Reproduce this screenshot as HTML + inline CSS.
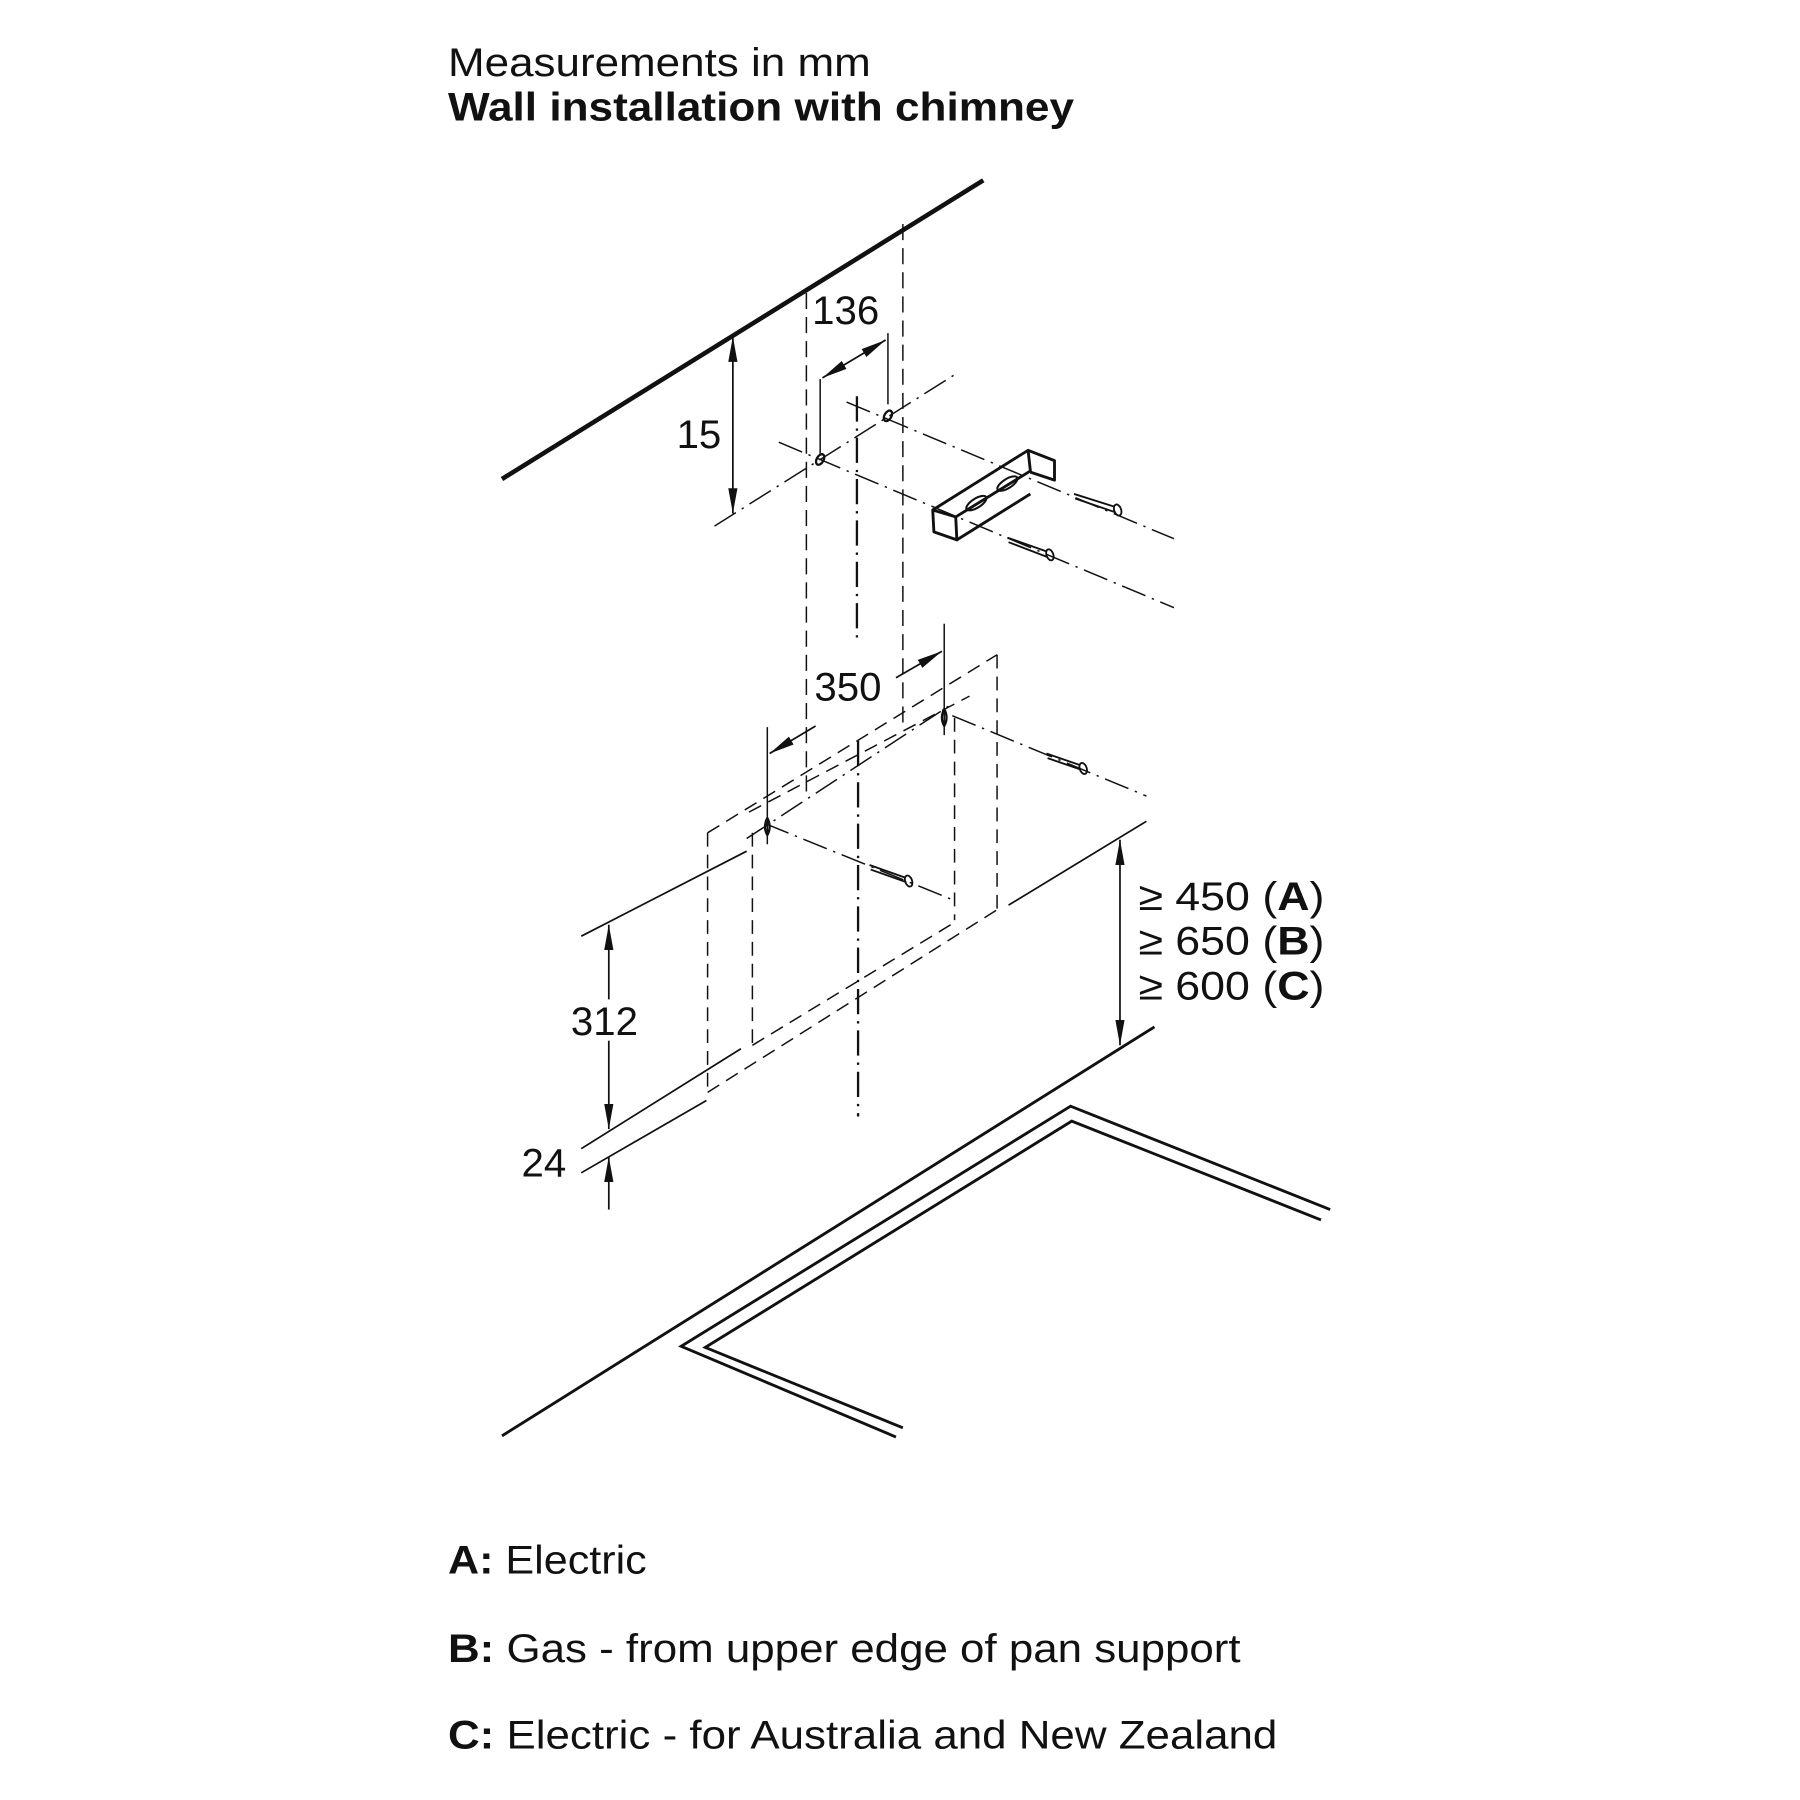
<!DOCTYPE html>
<html><head><meta charset="utf-8"><style>
html,body{margin:0;padding:0;background:#fff}
svg{display:block}
text{font-family:"Liberation Sans",Arial,sans-serif;fill:#111}
</style></head><body>
<svg width="1800" height="1800" viewBox="0 0 1567 1567" xmlns="http://www.w3.org/2000/svg">
<defs>
<marker id="ab" viewBox="0 0 22 10" refX="22" refY="5" markerWidth="22" markerHeight="10" markerUnits="userSpaceOnUse" orient="auto-start-reverse">
<path d="M0,1 L22,5 L0,9 z" fill="#111"/></marker>
</defs>
<text x="390" y="66" font-size="35" textLength="368" lengthAdjust="spacingAndGlyphs">Measurements in mm</text>
<text x="390" y="105" font-size="35" font-weight="bold" textLength="545" lengthAdjust="spacingAndGlyphs">Wall installation with chimney</text>

<g stroke="#111" fill="none">
<line x1="437" y1="417" x2="856" y2="157" stroke-width="4"/>
<line x1="638" y1="293" x2="638" y2="447" stroke-width="1.5" marker-start="url(#ab)" marker-end="url(#ab)"/>

<g stroke-width="1.3" stroke-dasharray="22,6,2,6">
<line x1="622" y1="458" x2="833" y2="325"/>
<line x1="678" y1="385" x2="1022" y2="529"/>
<line x1="737" y1="350" x2="1022" y2="469"/>
<line x1="746" y1="345" x2="746" y2="555" stroke-width="2"/>
<line x1="747" y1="645" x2="747" y2="972" stroke-width="2"/>
</g>
<g stroke-width="1.3" stroke-dasharray="14,7">
<line x1="702" y1="255" x2="702" y2="690"/>
<line x1="786" y1="195" x2="786" y2="634"/>
</g>
<line x1="714" y1="330" x2="714" y2="395" stroke-width="1.3"/>
<line x1="773" y1="290" x2="773" y2="352" stroke-width="1.3"/>
<line x1="716" y1="329" x2="771" y2="296" stroke-width="1.5" marker-start="url(#ab)" marker-end="url(#ab)"/>
<ellipse cx="714" cy="400" rx="3" ry="5" stroke-width="2" transform="rotate(30 714 400)"/>
<ellipse cx="773" cy="362" rx="3" ry="5" stroke-width="2" transform="rotate(30 773 362)"/>

<g stroke-width="2.5" stroke-linejoin="round">
<path d="M812,444 L895,392 L918,401 L918,418 L897,411"/>
<path d="M812,444 L832,450 L833,470 L813,463 Z"/>
<path d="M832,450 L897,410 L895,392"/>
<path d="M833,470 L897,430"/>
<ellipse cx="850" cy="438" rx="10" ry="4" transform="rotate(-32 850 438)" stroke-width="1.8"/>
<ellipse cx="877" cy="421" rx="10" ry="4" transform="rotate(-32 877 421)" stroke-width="1.8"/>
</g>
<g stroke-width="1.6">
<path d="M935,430 L970,441 M936,434 L971,446"/>
<ellipse cx="973" cy="444" rx="3" ry="5" transform="rotate(-20 973 444)"/>
<path d="M877,468 L911,480 M878,472 L912,485"/>
<ellipse cx="914" cy="483" rx="3" ry="5" transform="rotate(-20 914 483)"/>
<path d="M911,656 L940,666 M912,660 L941,670"/>
<ellipse cx="943" cy="669" rx="3" ry="5" transform="rotate(-20 943 669)"/>
<path d="M757,753 L788,764 M758,757 L789,768"/>
<ellipse cx="791" cy="767" rx="3" ry="5" transform="rotate(-20 791 767)"/>
</g>

<line x1="822" y1="543" x2="822" y2="640" stroke-width="1.3"/>
<line x1="668" y1="633" x2="668" y2="735" stroke-width="1.3"/>
<line x1="670" y1="656" x2="710" y2="632" stroke-width="1.5" marker-start="url(#ab)"/>
<line x1="780" y1="590" x2="820" y2="567" stroke-width="1.5" marker-end="url(#ab)"/>
<path d="M822,617 q-4,8 0,15 q4,-7 0,-15" stroke-width="2"/>
<path d="M668,712 q-4,8 0,15 q4,-7 0,-15" stroke-width="2"/>

<g stroke-width="1.3" stroke-dasharray="22,6,2,6">
<line x1="650" y1="730" x2="830" y2="612"/>
<line x1="666" y1="717" x2="831" y2="784"/>
<line x1="829" y1="623" x2="998" y2="693"/>
</g>
<g stroke-width="1.3" stroke-dasharray="12,7">
<line x1="616" y1="725" x2="868" y2="570"/>
<line x1="652" y1="707" x2="844" y2="606"/>
<line x1="616" y1="725" x2="616" y2="951"/>
<line x1="655" y1="725" x2="655" y2="910"/>
<line x1="831" y1="625" x2="831" y2="801"/>
<line x1="868" y1="570" x2="868" y2="792"/>
<line x1="616" y1="951" x2="868" y2="792"/>
<line x1="655" y1="910" x2="831" y2="803"/>
</g>
<g stroke-width="1.5">
<line x1="506" y1="815" x2="650" y2="741"/>
<line x1="878" y1="788" x2="998" y2="715"/>
<line x1="506" y1="1000" x2="645" y2="913"/>
<line x1="506" y1="1021" x2="615" y2="958"/>
</g>
<line x1="530" y1="805" x2="530" y2="983" stroke-width="1.5" marker-start="url(#ab)" marker-end="url(#ab)"/>
<line x1="530" y1="1053" x2="530" y2="1007" stroke-width="1.5" marker-end="url(#ab)"/>
<line x1="975" y1="731" x2="975" y2="910" stroke-width="1.5" marker-start="url(#ab)" marker-end="url(#ab)"/>

<line x1="437" y1="1250" x2="1005" y2="894" stroke-width="2.5"/>
<path d="M1158,1053 L932,963 L593,1172 L780,1251" stroke-width="2.5" stroke-linejoin="miter"/>
<path d="M1150,1062 L933,976 L614,1173 L786,1243" stroke-width="2.5" stroke-linejoin="miter"/>
</g>

<rect x="498" y="870" width="64" height="36" fill="#fff"/>
<text x="707" y="282" font-size="35">136</text>
<text x="589" y="390" font-size="35">15</text>
<text x="709" y="610" font-size="35">350</text>
<text x="497" y="901" font-size="35">312</text>
<text x="454" y="1024" font-size="35">24</text>
<text x="991" y="792" font-size="35" textLength="162" lengthAdjust="spacingAndGlyphs">≥ 450 (<tspan font-weight="bold">A</tspan>)</text>
<text x="991" y="831" font-size="35" textLength="162" lengthAdjust="spacingAndGlyphs">≥ 650 (<tspan font-weight="bold">B</tspan>)</text>
<text x="991" y="870" font-size="35" textLength="162" lengthAdjust="spacingAndGlyphs">≥ 600 (<tspan font-weight="bold">C</tspan>)</text>

<text x="390" y="1370" font-size="35" textLength="173" lengthAdjust="spacingAndGlyphs"><tspan font-weight="bold">A:</tspan> Electric</text>
<text x="390" y="1447" font-size="35" textLength="690" lengthAdjust="spacingAndGlyphs"><tspan font-weight="bold">B:</tspan> Gas - from upper edge of pan support</text>
<text x="390" y="1522" font-size="35" textLength="722" lengthAdjust="spacingAndGlyphs"><tspan font-weight="bold">C:</tspan> Electric - for Australia and New Zealand</text>
</svg>
</body></html>
